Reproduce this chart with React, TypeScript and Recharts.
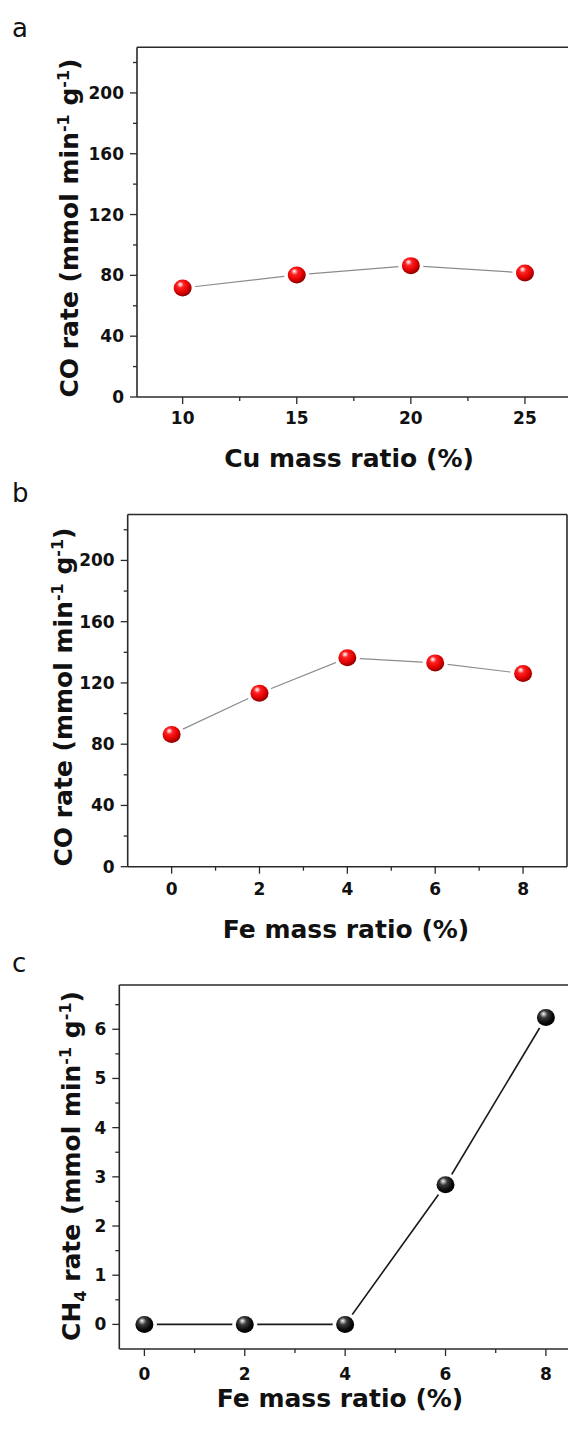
import type { FC, ReactNode } from "react";
import { LineChart, Line, XAxis, YAxis, ReferenceLine } from "recharts";

// Cu series (panel a)
const cuRatio = [10, 15, 20, 25];
const coRateCu = [71.7, 80.3, 86.4, 81.6];

// Fe series (panels b and c)
const feRatio = [0, 2, 4, 6, 8];
const coRateFe = [86.4, 113.3, 136.4, 133.1, 126.1];
const ch4RateFe = [0, 0, 0, 2.84, 6.24];

// tick positions (all) and the ones that carry a label
const cuTicks = [10, 12.5, 15, 17.5, 20, 22.5, 25];
const cuLabels = [10, 15, 20, 25];
const feTicks = [0, 1, 2, 3, 4, 5, 6, 7, 8];
const feLabels = [0, 2, 4, 6, 8];
const coTicks = [0, 20, 40, 60, 80, 100, 120, 140, 160, 180, 200, 220];
const coLabels = [0, 40, 80, 120, 160, 200];
const ch4Ticks = [0, 0.5, 1, 1.5, 2, 2.5, 3, 3.5, 4, 4.5, 5, 5.5, 6, 6.5];
const ch4Labels = [0, 1, 2, 3, 4, 5, 6];

const FONT = "'DejaVu Sans', 'Liberation Sans', sans-serif";
const INK = "#111";
const FRAME = "#2a2a2a";

type Pt = { x: number; y: number };
const zip = (xs: number[], ys: number[]): Pt[] => xs.map((x, i) => ({ x, y: ys[i] }));

const cuData = zip(cuRatio, coRateCu);
const feCoData = zip(feRatio, coRateFe);
const feCh4Data = zip(feRatio, ch4RateFe);

const makeYTick = (labels: number[]) => (props: any) => {
  const { x, y, payload } = props;
  const major = labels.includes(payload.value);
  return (
    <g>
      <line x1={x - (major ? 7 : 4)} x2={x} y1={y} y2={y} stroke={FRAME} strokeWidth={1.3} />
      {major && (
        <text x={x - 13} y={y} dy={6} textAnchor="end" fontFamily={FONT} fontWeight="bold" fontSize={17} fill={INK}>
          {payload.value}
        </text>
      )}
    </g>
  );
};

const makeXTick = (labels: number[], labelDy: number) => (props: any) => {
  const { x, y, payload } = props;
  const major = labels.includes(payload.value);
  return (
    <g>
      <line x1={x} x2={x} y1={y} y2={y + (major ? 7 : 4)} stroke={FRAME} strokeWidth={1.3} />
      {major && (
        <text x={x} y={y + labelDy} textAnchor="middle" fontFamily={FONT} fontWeight="bold" fontSize={17} fill={INK}>
          {payload.value}
        </text>
      )}
    </g>
  );
};

// glossy sphere marker with a white gap around it
const makeBall = (gradId: string) => (props: any) => {
  const { cx, cy, index } = props;
  if (cx == null || cy == null) return <g key={`b-${index}`} />;
  return (
    <g key={`b-${index}`}>
      <ellipse cx={cx} cy={cy} rx={12.5} ry={12} fill="#fff" />
      <ellipse cx={cx} cy={cy} rx={9} ry={8.5} fill={`url(#${gradId})`} />
    </g>
  );
};

const coTitle = (
  <>
    CO rate (mmol min<tspan dy={-9} fontSize={16}>-1</tspan>
    <tspan dy={9}> g</tspan>
    <tspan dy={-9} fontSize={16}>-1</tspan>
    <tspan dy={9}>)</tspan>
  </>
);

const ch4Title = (
  <>
    CH<tspan dy={6} fontSize={16}>4</tspan>
    <tspan dy={-6}> rate (mmol min</tspan>
    <tspan dy={-9} fontSize={16}>-1</tspan>
    <tspan dy={9}> g</tspan>
    <tspan dy={-9} fontSize={16}>-1</tspan>
    <tspan dy={9}>)</tspan>
  </>
);

type PanelProps = {
  letter: string;
  letterTop: number;
  top: number;
  height: number;
  data: Pt[];
  xDomain: [number, number];
  xTicks: number[];
  xLabels: number[];
  yDomain: [number, number];
  yTicks: number[];
  yLabels: number[];
  plotTop: number;
  plotLeft: number;
  plotRight: number;
  plotBottom: number;
  xTickDy: number;
  xTitle: string;
  xTitleX: number;
  xTitleY: number;
  yTitle: ReactNode;
  yTitleX: number;
  yTitleY: number;
  lineColor: string;
  lineWidth: number;
  gradId: string;
  stops: [string, string][];
};

const CHART_W = 620;

const Panel: FC<PanelProps> = (p) => {
  const margin = { top: p.plotTop, right: CHART_W - p.plotRight, bottom: 0, left: 0 };
  return (
    <div style={{ position: "absolute", left: 0, top: p.top, width: CHART_W, height: p.height }}>
      <div
        style={{
          position: "absolute",
          left: 12,
          top: p.letterTop,
          fontFamily: FONT,
          fontSize: 26,
          lineHeight: "26px",
          color: INK,
        }}
      >
        {p.letter}
      </div>
      <LineChart width={CHART_W} height={p.height} data={p.data} margin={margin}>
        <defs>
          <radialGradient id={p.gradId} cx="42%" cy="38%" r="62%" fx="36%" fy="28%">
            {p.stops.map(([off, col]) => (
              <stop key={off} offset={off} stopColor={col} />
            ))}
          </radialGradient>
        </defs>
        <XAxis
          dataKey="x"
          type="number"
          domain={p.xDomain}
          allowDataOverflow
          ticks={p.xTicks}
          interval={0}
          height={p.height - p.plotBottom}
          tickSize={0}
          tickMargin={0}
          tickLine={false}
          axisLine={{ stroke: FRAME, strokeWidth: 1.6 }}
          tick={makeXTick(p.xLabels, p.xTickDy)}
          label={() => (
            <text x={p.xTitleX} y={p.xTitleY} textAnchor="middle" fontFamily={FONT} fontWeight="bold" fontSize={25} fill={INK}>
              {p.xTitle}
            </text>
          )}
        />
        <YAxis
          type="number"
          domain={p.yDomain}
          allowDataOverflow
          ticks={p.yTicks}
          interval={0}
          width={p.plotLeft}
          tickSize={0}
          tickMargin={0}
          tickLine={false}
          axisLine={{ stroke: FRAME, strokeWidth: 1.6 }}
          tick={makeYTick(p.yLabels)}
          label={() => (
            <text
              x={p.yTitleX}
              y={p.yTitleY}
              transform={`rotate(-90 ${p.yTitleX} ${p.yTitleY})`}
              textAnchor="middle"
              fontFamily={FONT}
              fontWeight="bold"
              fontSize={25}
              fill={INK}
            >
              {p.yTitle}
            </text>
          )}
        />
        {/* closing top and right edges of the frame */}
        <ReferenceLine y={p.yDomain[1]} stroke={FRAME} strokeWidth={1.6} />
        <ReferenceLine x={p.xDomain[1]} stroke={FRAME} strokeWidth={1.6} />
        <Line
          type="linear"
          dataKey="y"
          stroke={p.lineColor}
          strokeWidth={p.lineWidth}
          dot={makeBall(p.gradId)}
          activeDot={false}
          isAnimationActive={false}
        />
      </LineChart>
    </div>
  );
};

const redStops: [string, string][] = [
  ["0%", "#ffffff"],
  ["12%", "#ffb3b3"],
  ["30%", "#ff2222"],
  ["70%", "#e00000"],
  ["100%", "#8a0000"],
];
const blackStops: [string, string][] = [
  ["0%", "#ffffff"],
  ["12%", "#b8b8b8"],
  ["35%", "#3a3a3a"],
  ["75%", "#0a0a0a"],
  ["100%", "#000000"],
];

const App: FC = () => (
  <div style={{ position: "absolute", left: 0, top: 0, width: 568, height: 1432, overflow: "hidden", background: "#fff" }}>
    <Panel
      letter="a"
      letterTop={15}
      top={0}
      height={480}
      data={cuData}
      xDomain={[8, 27]}
      xTicks={cuTicks}
      xLabels={cuLabels}
      yDomain={[0, 230]}
      yTicks={coTicks}
      yLabels={coLabels}
      plotTop={47.3}
      plotLeft={137}
      plotRight={570.6}
      plotBottom={397}
      xTickDy={27}
      xTitle="Cu mass ratio (%)"
      xTitleX={349}
      xTitleY={467}
      yTitle={coTitle}
      yTitleX={78}
      yTitleY={228}
      lineColor="#8c8c8c"
      lineWidth={1.2}
      gradId="ballRedA"
      stops={redStops}
    />
    <Panel
      letter="b"
      letterTop={10}
      top={470}
      height={480}
      data={feCoData}
      xDomain={[-1, 9]}
      xTicks={feTicks}
      xLabels={feLabels}
      yDomain={[0, 230]}
      yTicks={coTicks}
      yLabels={coLabels}
      plotTop={44.5}
      plotLeft={127.7}
      plotRight={567}
      plotBottom={396.7}
      xTickDy={28}
      xTitle="Fe mass ratio (%)"
      xTitleX={346}
      xTitleY={468}
      yTitle={coTitle}
      yTitleX={72}
      yTitleY={227}
      lineColor="#8c8c8c"
      lineWidth={1.2}
      gradId="ballRedB"
      stops={redStops}
    />
    <Panel
      letter="c"
      letterTop={10}
      top={940}
      height={492}
      data={feCh4Data}
      xDomain={[-0.5, 8.5]}
      xTicks={feTicks}
      xLabels={feLabels}
      yDomain={[-0.5, 6.9]}
      yTicks={ch4Ticks}
      yLabels={ch4Labels}
      plotTop={45}
      plotLeft={119.3}
      plotRight={571}
      plotBottom={409}
      xTickDy={31}
      xTitle="Fe mass ratio (%)"
      xTitleX={340}
      xTitleY={467}
      yTitle={ch4Title}
      yTitleX={80}
      yTitleY={226}
      lineColor="#1a1a1a"
      lineWidth={1.6}
      gradId="ballBlack"
      stops={blackStops}
    />
  </div>
);

export default App;
